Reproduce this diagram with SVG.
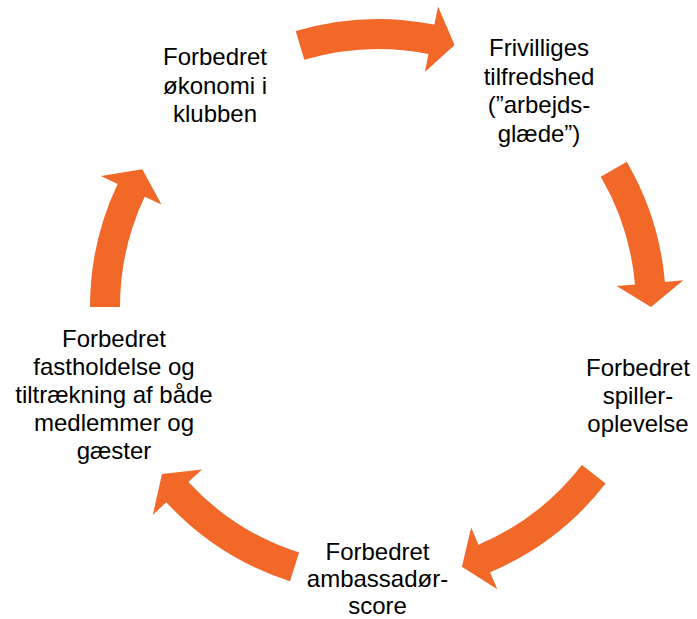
<svg xmlns="http://www.w3.org/2000/svg" width="697" height="619" viewBox="0 0 697 619">
<style>
.arrow{fill:#F26829;stroke:none}
.lbl{font-family:"Liberation Sans",Arial,sans-serif;font-size:24px;fill:#000;text-anchor:middle}
</style>
<rect width="697" height="619" fill="#fff"/>
<g id="connectors">
<path class="arrow" d="M295.7,31.0 A288,288 0 0 1 434.4,24.6 L438.0,6.4 L454.6,45.0 L424.9,72.1 L428.5,54.0 A258,258 0 0 0 304.3,59.8 Z"/>
<path class="arrow" d="M626.7,161.7 A288,288 0 0 1 664.9,281.9 L683.3,280.3 L651,307 L616.6,286.1 L635.0,284.5 A258,258 0 0 0 600.8,176.8 Z"/>
<path class="arrow" d="M605.6,483.5 A288,288 0 0 1 490.1,572.3 L497.3,589.3 L461.9,566.8 L471.2,527.6 L478.4,544.7 A258,258 0 0 0 581.9,465.1 Z"/>
<path class="arrow" d="M290.0,581.2 A288,288 0 0 1 166.3,502.3 L152.8,514.9 L162.0,473.9 L202.0,469.4 L188.4,482.0 A258,258 0 0 0 299.1,552.6 Z"/>
<path class="arrow" d="M90,307 A288,288 0 0 1 117.6,183.9 L100.9,176.0 L142.3,169.3 L161.5,204.6 L144.7,196.7 A258,258 0 0 0 120,307 Z"/>
</g>
<g id="node-okonomi">
<text class="lbl" x="215" y="65">Forbedret</text>
<text class="lbl" x="215" y="93.5">økonomi i</text>
<text class="lbl" x="215" y="122">klubben</text>
</g>
<g id="node-frivilliges">
<text class="lbl" x="539" y="56">Frivilliges</text>
<text class="lbl" x="539" y="84.5">tilfredshed</text>
<text class="lbl" x="539" y="113">(”arbejds-</text>
<text class="lbl" x="539" y="141.5">glæde”)</text>
</g>
<g id="node-spiller">
<text class="lbl" x="638" y="376">Forbedret</text>
<text class="lbl" x="638" y="404">spiller-</text>
<text class="lbl" x="638" y="432">oplevelse</text>
</g>
<g id="node-ambassador">
<text class="lbl" x="377.5" y="560">Forbedret</text>
<text class="lbl" x="377.5" y="587">ambassadør-</text>
<text class="lbl" x="377.5" y="613.5">score</text>
</g>
<g id="node-fastholdelse">
<text class="lbl" x="114" y="347">Forbedret</text>
<text class="lbl" x="114" y="375">fastholdelse og</text>
<text class="lbl" x="114" y="403">tiltrækning af både</text>
<text class="lbl" x="114" y="431">medlemmer og</text>
<text class="lbl" x="114" y="459">gæster</text>
</g>
</svg>
